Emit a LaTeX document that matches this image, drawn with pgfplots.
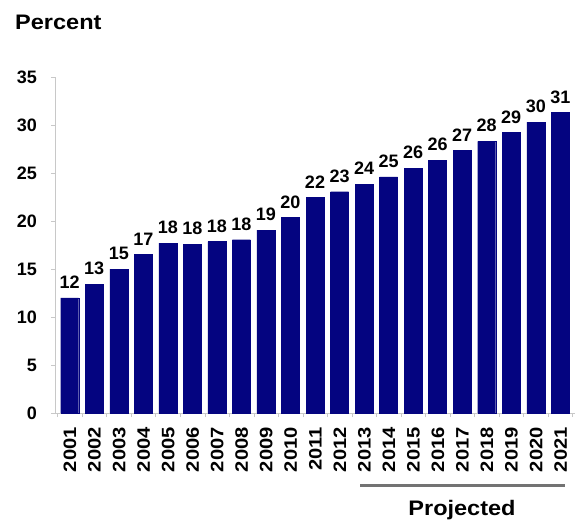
\documentclass[border=0pt]{standalone}
\usepackage{pgfplots}
\pgfplotsset{compat=1.18}
\usepackage{pgfplotstable}
\usepackage{fontspec}
\setmainfont{Liberation Sans}
\definecolor{barblue}{RGB}{4,4,128}
\definecolor{axgray}{RGB}{200,200,200}
\definecolor{projgray}{RGB}{115,115,115}
\pgfplotstableread{
x val lab
0 12.0 12
1 13.4 13
2 15.0 15
3 16.5 17
4 17.7 18
5 17.6 18
6 17.85 18
7 18.05 18
8 19.05 19
9 20.35 20
10 22.45 22
11 23.05 23
12 23.85 24
13 24.6 25
14 25.5 26
15 26.35 26
16 27.35 27
17 28.3 28
18 29.2 29
19 30.3 30
20 31.3 31
}\data
\newcommand{\yr}[1]{\scalebox{1.12}[1]{#1}}
\begin{document}
\begin{tikzpicture}
\begin{axis}[
  at={(55pt,107pt)}, anchor=south west,
  scale only axis, width=520pt, height=336pt,
  xmin=-0.6, xmax=20.6, ymin=0, ymax=35,
  axis x line*=bottom, axis y line*=left,
  axis line style={axgray, line width=1pt},
  ytick={0,5,...,35},
  xtick={0,...,20},
  xticklabels={\yr{2001},\yr{2002},\yr{2003},\yr{2004},\yr{2005},\yr{2006},\yr{2007},\yr{2008},\yr{2009},\yr{2010},\yr{2011},\yr{2012},\yr{2013},\yr{2014},\yr{2015},\yr{2016},\yr{2017},\yr{2018},\yr{2019},\yr{2020},\yr{2021}},
  major x tick style={draw=none},
  minor xtick={-0.5,0.5,...,20.5},
  minor x tick style={axgray},
  minor tick length=4pt,
  major tick length=4pt,
  tick align=outside,
  y tick style={axgray},
  /pgf/number format/assume math mode=true,
  yticklabel style={font=\bfseries\fontsize{18}{18}\selectfont, inner sep=0pt, xshift=-14pt},
  xticklabel style={font=\bfseries\fontsize{18}{18}\selectfont, yshift=-10pt, rotate=90, anchor=east, inner sep=0pt, text height=13pt, text depth=0pt},
  ybar, bar width=18pt, bar shift=0pt,
  nodes near coords,
  point meta=explicit symbolic,
  every node near coord/.append style={font=\bfseries\fontsize{18}{18}\selectfont, inner sep=0pt, anchor=south, yshift=9pt},
  clip=false,
]
\addplot[fill=barblue, draw=barblue] table[x=x, y=val, meta=lab] {\data};
\end{axis}
\node[anchor=base west, inner sep=0pt, font=\bfseries\fontsize{21}{21}\selectfont] at (15pt,490pt) {\scalebox{1.12}[1]{Percent}};
\draw[projgray, line width=3pt] (360pt,35pt) -- (565pt,35pt);
\node[anchor=base, inner sep=0pt, font=\bfseries\fontsize{21}{21}\selectfont] at (462pt,5pt) {\scalebox{1.12}[1]{Projected}};
\pgfresetboundingbox
\path[use as bounding box] (0,0) rectangle (578pt,520pt);
\end{tikzpicture}
\end{document}
